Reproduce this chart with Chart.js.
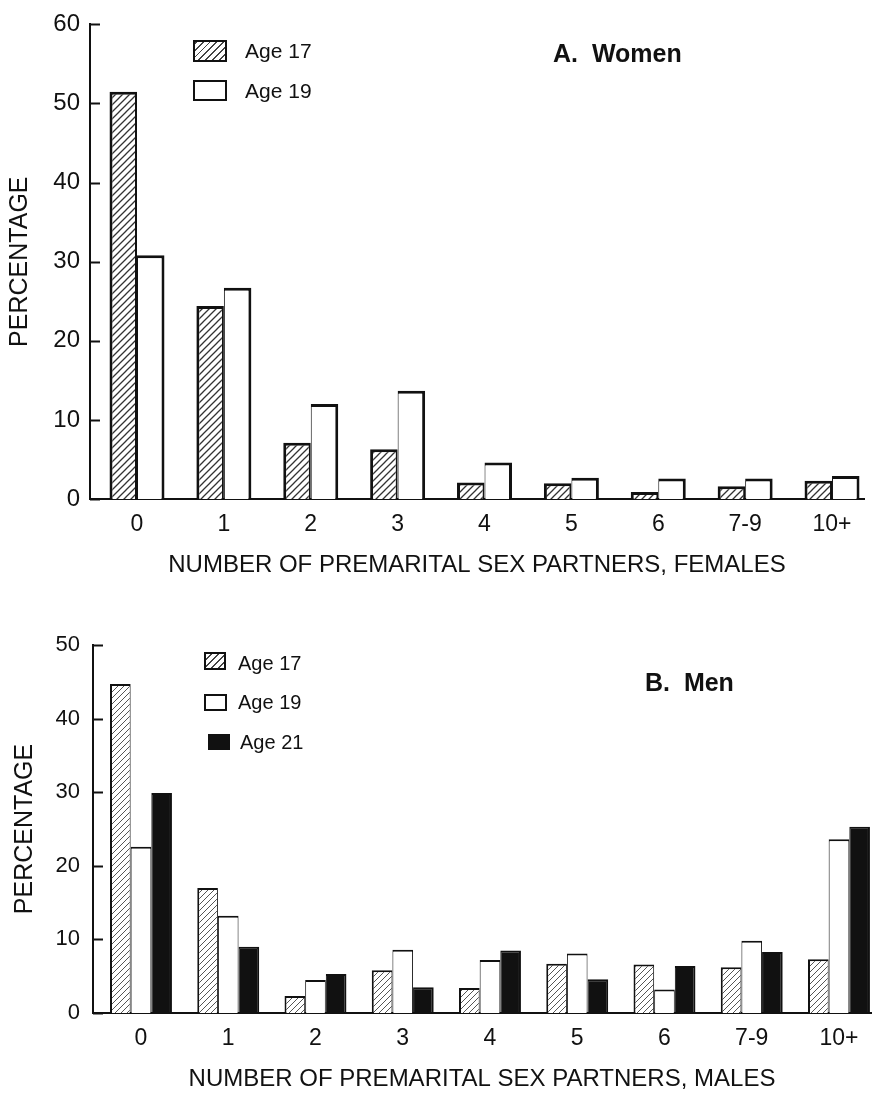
<!DOCTYPE html>
<html>
<head>
<meta charset="utf-8">
<script src="https://cdn.jsdelivr.net/npm/chart.js@4/dist/chart.umd.min.js"></script>
<style>
  body { margin: 0; background: #fff; }
  #wrap { position: relative; width: 872px; height: 1096px; overflow: hidden;
          font-family: "Liberation Sans", Arial, sans-serif; color: #111; }
  canvas { position: absolute; left: 0; }
  .sw { position: absolute; box-sizing: border-box; border: 2.5px solid #111; background: #fff; }
  .hatch { background: repeating-linear-gradient(-45deg, #fff 0 3.5px, #444 3.5px 4.8px); }
  .solid { background: #111; }
  .lbl { position: absolute; white-space: pre; line-height: 1; }
  .ttl { position: absolute; white-space: pre; line-height: 1; font-weight: bold; }
</style>
</head>
<body>
<div id="wrap">
  <canvas id="women" width="872" height="600" style="top:0"></canvas>
  <canvas id="men" width="872" height="496" style="top:600px"></canvas>

  <div class="sw hatch" style="left:193px;top:40px;width:34px;height:22px"></div>
  <div class="lbl" style="left:245px;top:40px;font-size:21px">Age 17</div>
  <div class="sw" style="left:193px;top:80px;width:34px;height:21px"></div>
  <div class="lbl" style="left:245px;top:80px;font-size:21px">Age 19</div>
  <div class="ttl" style="left:553px;top:41px;font-size:25px">A.  Women</div>

  <div class="sw hatch" style="left:204px;top:652px;width:22px;height:18px;border-width:2px"></div>
  <div class="lbl" style="left:238px;top:653px;font-size:20px">Age 17</div>
  <div class="sw" style="left:204px;top:694px;width:23px;height:17px;border-width:2px"></div>
  <div class="lbl" style="left:238px;top:692px;font-size:20px">Age 19</div>
  <div class="sw solid" style="left:208px;top:734px;width:22px;height:16px"></div>
  <div class="lbl" style="left:240px;top:732px;font-size:20px">Age 21</div>
  <div class="ttl" style="left:645px;top:670px;font-size:25px">B.  Men</div>
</div>

<script>
const categories = ["0", "1", "2", "3", "4", "5", "6", "7-9", "10+"];

const womenAge17 = [51.5, 24.4, 7.1, 6.3, 2.1, 2.0, 0.9, 1.6, 2.3];
const womenAge19 = [30.8, 26.7, 12.0, 13.7, 4.6, 2.7, 2.6, 2.6, 2.9];

const menAge17 = [44.7, 17.0, 2.3, 5.8, 3.4, 6.7, 6.6, 6.2, 7.3];
const menAge19 = [22.6, 13.2, 4.5, 8.6, 7.2, 8.1, 3.2, 9.8, 23.6];
const menAge21 = [29.9, 9.0, 5.3, 3.5, 8.5, 4.6, 6.4, 8.3, 25.3];

const FONT = '"Liberation Sans", Arial, sans-serif';
const INK = "#111";

function hatchPattern(spacing, color, lw) {
  const c = document.createElement("canvas");
  c.width = spacing; c.height = spacing;
  const g = c.getContext("2d");
  g.fillStyle = "#fff";
  g.fillRect(0, 0, spacing, spacing);
  g.strokeStyle = color;
  g.lineWidth = lw;
  g.beginPath();
  g.moveTo(-1, spacing + 1); g.lineTo(spacing + 1, -1);
  g.moveTo(-1, 1); g.lineTo(1, -1);
  g.moveTo(spacing - 1, spacing + 1); g.lineTo(spacing + 1, spacing - 1);
  g.stroke();
  return g.createPattern(c, "repeat");
}

function points(values) {
  return values.map((v, i) => ({ x: i, y: v }));
}

// small tick marks pointing into the plot, like the printed figure
const innerTicks = {
  id: "innerTicks",
  afterDraw(chart) {
    const y = chart.scales.y, ctx = chart.ctx, left = chart.chartArea.left;
    ctx.save();
    ctx.strokeStyle = INK;
    ctx.lineWidth = 2;
    y.ticks.forEach(t => {
      const py = Math.round(y.getPixelForValue(t.value)) + 0.5;
      ctx.beginPath();
      ctx.moveTo(left, py);
      ctx.lineTo(left + 10, py);
      ctx.stroke();
    });
    ctx.restore();
  }
};

function makeChart(id, datasets, opt) {
  return new Chart(document.getElementById(id), {
    type: "bar",
    data: { datasets },
    plugins: [innerTicks],
    options: {
      responsive: false,
      animation: false,
      layout: { padding: { top: opt.padTop, right: opt.padRight, left: 0, bottom: 0 } },
      datasets: { bar: { categoryPercentage: opt.catPct, barPercentage: 1, borderSkipped: "start" } },
      plugins: { legend: { display: false }, tooltip: { enabled: false } },
      scales: {
        x: {
          type: "linear",
          offset: false,
          min: opt.xMin,
          max: opt.xMax,
          z: 1,
          grid: { display: false, drawTicks: false, offset: false },
          border: { color: INK, width: 2 },
          afterBuildTicks(scale) { scale.ticks = categories.map((c, i) => ({ value: i })); },
          afterFit(scale) { scale.height = opt.xHeight; },
          ticks: {
            autoSkip: false, maxRotation: 0, padding: opt.xTickPad, color: INK,
            font: { family: FONT, size: 23 },
            callback: v => categories[v]
          },
          title: {
            display: true, text: opt.xTitle, color: INK,
            font: { family: FONT, size: 24 },
            padding: { top: 0, bottom: opt.xTitlePad }
          }
        },
        y: {
          min: 0,
          max: opt.yMax,
          z: 1,
          grid: { display: false, drawTicks: false },
          border: { color: INK, width: 2 },
          afterFit(scale) { scale.width = opt.yWidth; },
          ticks: {
            stepSize: 10, padding: opt.yTickPad, color: INK,
            font: { family: FONT, size: opt.yTickSize }
          },
          title: {
            display: true, text: "PERCENTAGE", color: INK,
            font: { family: FONT, size: 25 },
            padding: { top: opt.yTitlePad, bottom: 0 }
          }
        }
      }
    }
  });
}

const hatchW = hatchPattern(7, "#333", 1.3);
const hatchM = hatchPattern(6, "#555", 1.0);

makeChart("women", [
  { label: "Age 17", data: points(womenAge17), backgroundColor: hatchW, borderColor: INK,
    borderWidth: { top: 3, left: 3, right: 2, bottom: 0 } },
  { label: "Age 19", data: points(womenAge19), backgroundColor: "#fff", borderColor: INK,
    borderWidth: { top: 3, left: 1, right: 3, bottom: 0 } }
], {
  padTop: 14, padRight: 8, catPct: 0.633,
  xMin: -0.541, xMax: 8.368, xHeight: 101, xTickPad: 12, xTitlePad: 20,
  xTitle: "NUMBER OF PREMARITAL SEX PARTNERS, FEMALES",
  yMax: 60, yWidth: 90, yTickPad: 10, yTickSize: 24, yTitlePad: 5
});

makeChart("men", [
  { label: "Age 17", data: points(menAge17), backgroundColor: hatchM, borderColor: INK,
    borderWidth: { top: 2, left: 2, right: 1, bottom: 0 } },
  { label: "Age 19", data: points(menAge19), backgroundColor: "#fff", borderColor: INK,
    borderWidth: { top: 2, left: 1, right: 1, bottom: 0 } },
  { label: "Age 21", data: points(menAge21), backgroundColor: INK, borderColor: INK,
    borderWidth: { top: 2, left: 1, right: 2, bottom: 0 } }
], {
  padTop: 45, padRight: 1, catPct: 0.71,
  xMin: -0.55, xMax: 8.367, xHeight: 83, xTickPad: 12, xTitlePad: 2,
  xTitle: "NUMBER OF PREMARITAL SEX PARTNERS, MALES",
  yMax: 50, yWidth: 93, yTickPad: 13, yTickSize: 22, yTitlePad: 10
});
</script>
</body>
</html>
